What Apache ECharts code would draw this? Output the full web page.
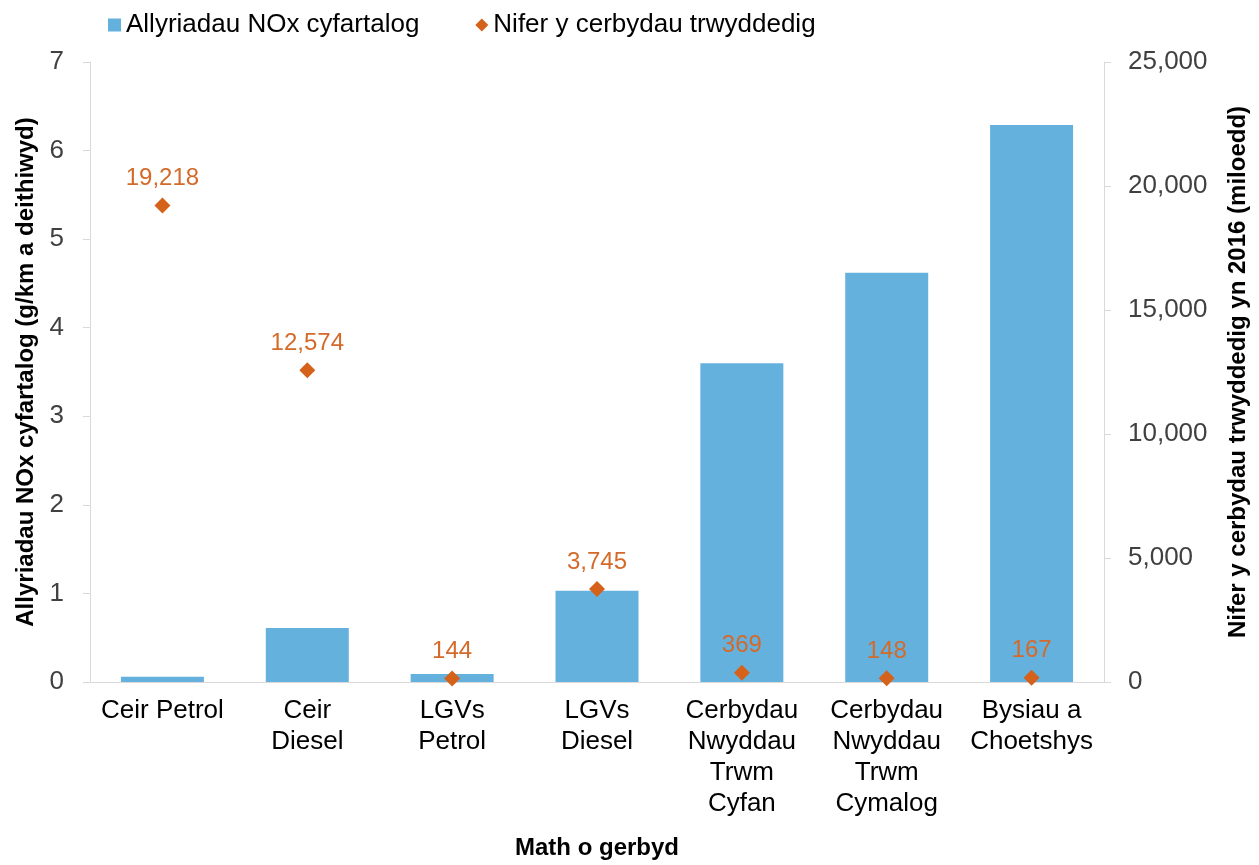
<!DOCTYPE html>
<html>
<head>
<meta charset="utf-8">
<script src="https://cdn.jsdelivr.net/npm/echarts@6/dist/echarts.min.js"></script>
<style>
html,body{margin:0;padding:0;background:#fff;}
#chart{width:1259px;height:865px;}
</style>
</head>
<body>
<div id="chart"></div>
<script>
var categories = ['Ceir Petrol', 'Ceir\nDiesel', 'LGVs\nPetrol', 'LGVs\nDiesel', 'Cerbydau\nNwyddau\nTrwm\nCyfan', 'Cerbydau\nNwyddau\nTrwm\nCymalog', 'Bysiau a\nChoetshys'];
var noxValues = [0.06, 0.61, 0.09, 1.03, 3.60, 4.62, 6.29];
var vehicleValues = [19218, 12574, 144, 3745, 369, 148, 167];
var seriesNames = ['Allyriadau NOx cyfartalog', 'Nifer y cerbydau trwyddedig'];
var leftAxisTitle = 'Allyriadau NOx cyfartalog (g/km a deithiwyd)';
var rightAxisTitle = 'Nifer y cerbydau trwyddedig yn 2016 (miloedd)';
var xAxisTitle = 'Math o gerbyd';

var FONT = 'Liberation Sans, Arial, sans-serif';
var BLUE = '#65B1DE';
var ORANGE = '#D5621A';
var LABEL_ORANGE = '#D46A2A';

function fmt(v) { return v.toString().replace(/\B(?=(\d{3})+(?!\d))/g, ','); }

var chart = echarts.init(document.getElementById('chart'), null, {renderer: 'canvas'});
chart.setOption({
  animation: false,
  backgroundColor: '#fff',
  textStyle: {fontFamily: FONT},
  legend: {
    left: 103, top: 7,
    itemWidth: 13, itemHeight: 13, itemGap: 56,
    textStyle: {fontSize: 26, color: '#000', fontFamily: FONT},
    data: [
      {name: seriesNames[0], icon: 'rect'},
      {name: seriesNames[1], icon: 'diamond'}
    ]
  },
  grid: {left: 90, right: 155, top: 62, bottom: 180, containLabel: false},
  xAxis: {
    type: 'category',
    data: categories,
    name: xAxisTitle,
    nameLocation: 'middle',
    nameGap: 154,
    nameTextStyle: {fontSize: 24, fontWeight: 'bold', color: '#000', fontFamily: FONT},
    axisLine: {lineStyle: {color: '#D9D9D9', width: 1}},
    axisTick: {show: false},
    axisLabel: {fontSize: 26, color: '#000', lineHeight: 31, margin: 13, interval: 0, fontFamily: FONT}
  },
  yAxis: [
    {
      type: 'value', min: 0, max: 7, interval: 1, position: 'left',
      name: leftAxisTitle, nameLocation: 'middle', nameGap: 50, nameRotate: 90,
      nameTextStyle: {fontSize: 24, fontWeight: 'bold', color: '#000', fontFamily: FONT},
      axisLine: {show: true, lineStyle: {color: '#D9D9D9'}},
      axisTick: {show: true, length: 7, lineStyle: {color: '#D9D9D9'}},
      axisLabel: {fontSize: 26, color: '#404040', margin: 26, fontFamily: FONT},
      splitLine: {show: false}
    },
    {
      type: 'value', min: 0, max: 25000, interval: 5000, position: 'right',
      name: rightAxisTitle, nameLocation: 'middle', nameGap: 122, nameRotate: 90,
      nameTextStyle: {fontSize: 24, fontWeight: 'bold', color: '#000', fontFamily: FONT},
      axisLine: {show: true, lineStyle: {color: '#D9D9D9'}},
      axisTick: {show: true, length: 7, lineStyle: {color: '#D9D9D9'}},
      axisLabel: {fontSize: 26, color: '#404040', margin: 24, fontFamily: FONT, formatter: function (v) { return fmt(v); }},
      splitLine: {show: false}
    }
  ],
  series: [
    {
      name: seriesNames[0],
      type: 'bar',
      yAxisIndex: 0,
      data: noxValues,
      barWidth: 83,
      itemStyle: {color: BLUE}
    },
    {
      name: seriesNames[1],
      type: 'scatter',
      yAxisIndex: 1,
      data: vehicleValues,
      symbol: 'diamond',
      symbolSize: 16,
      itemStyle: {color: ORANGE, opacity: 1},
      label: {
        show: true, position: 'top', distance: 7,
        fontSize: 24, color: LABEL_ORANGE, fontFamily: FONT,
        formatter: function (p) { return fmt(p.value); }
      },
      z: 5
    }
  ]
});
</script>
</body>
</html>
